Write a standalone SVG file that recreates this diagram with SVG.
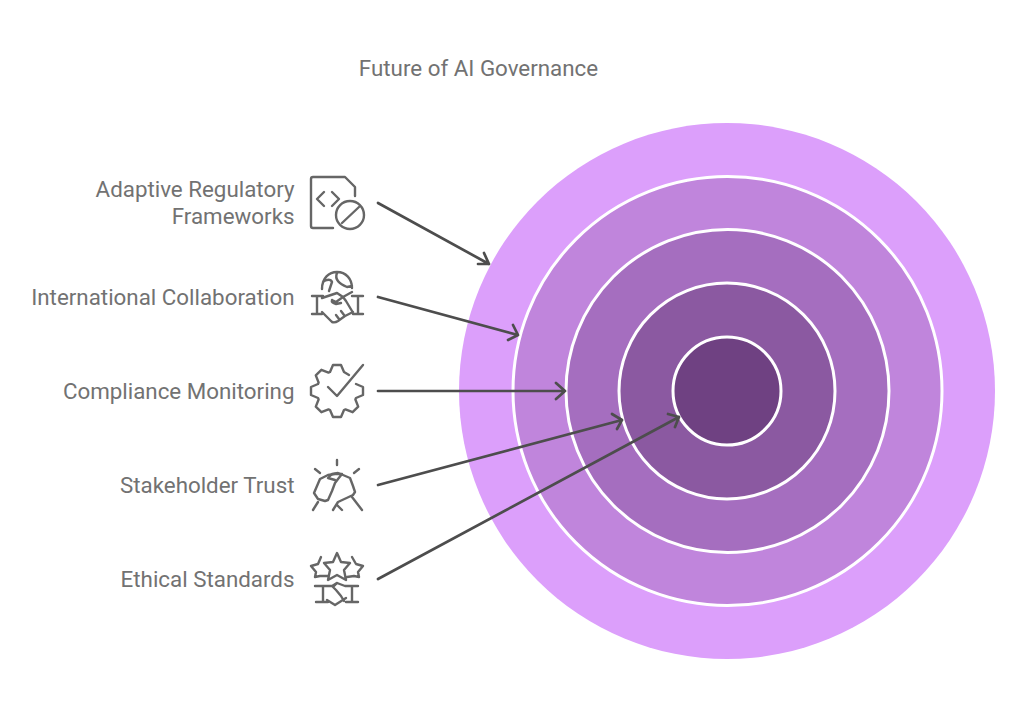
<svg xmlns="http://www.w3.org/2000/svg" width="1024" height="715" viewBox="0 0 1024 715">
<style>
text{font-family:Roboto,"Liberation Sans",sans-serif;font-size:22.35px;fill:#727272;text-anchor:end}
.ring{stroke:#fff;stroke-width:3}
.ico{fill:none;stroke:#666;stroke-width:2.4;stroke-linecap:round;stroke-linejoin:round}
.con{fill:none;stroke:#4d4d4d;stroke-width:2.7;stroke-linecap:round;stroke-linejoin:round}
</style>
<rect width="1024" height="715" fill="#fff"/>
<text id="title" x="478.500" y="76" style="text-anchor:middle">Future of AI Governance</text>
<g id="rings">
<circle id="ring1" cx="727" cy="391" r="268" fill="#dc9ffb"/>
<circle id="ring2" class="ring" cx="727.500" cy="391" r="214.500" fill="#c085dc"/>
<circle id="ring3" class="ring" cx="727.500" cy="391" r="161.500" fill="#a56ebf"/>
<circle id="ring4" class="ring" cx="727" cy="391" r="108" fill="#8b59a1"/>
<circle id="ring5" class="ring" cx="727" cy="391" r="54" fill="#6f4182"/>
</g>
<g id="connectors" class="con">
<path d="M378 203L489 264M478 264L489 264L484 253"/>
<path d="M378 297L518 335M508 340L518 335L513 325"/>
<path d="M378 391L565 391M556 383L565 391L556 399"/>
<path d="M378 485L622 420M612 414L622 420L617 429"/>
<path d="M378 579L679 417M668 414L679 417L675 427"/>
</g>
<g id="node1"><text x="294.500" y="197">Adaptive Regulatory</text><text x="294.500" y="224">Frameworks</text>
<g class="ico"><path d="M333 228H313Q311 228 311 226V179Q311 177 313 177H345L355 187V196"/><path d="M324 192L317 199L324 206M332 192L339 199L332 206"/><circle cx="350" cy="215" r="14"/><path d="M342 223L359 207"/></g></g>
<g id="node2"><text x="294.500" y="305">International Collaboration</text>
<g class="ico"><path d="M322 289C322 278 329 272 337 272C346 272 352 279 352 288M337 273C334 280 340 284 347 287L352 286M323 282C326 279 331 279 332 282L329 291"/><path d="M312 296H323M317 296V314M312 314H322M363 296H352M358 296V314M363 314H353"/><path d="M322 298L337 293L343 297L352 292M322 312L332 322Q335 323 338 321L345 316L353 312"/><path d="M332 300L336 302L343 297L346 301L352 311M336 315L339 319M341 311L344 315M332 300Q331 303 336 304L341 303"/></g></g>
<g id="node3"><text x="294.500" y="398.500">Compliance Monitoring</text>
<g class="ico"><path d="M349 375L344 372L341 365H333L330 372L328.500 372.600L321.400 369.800L315.800 375.400L318.600 382.500L318 384L311 387V395L318 398L318.600 399.500L315.800 406.600L321.400 412.200L328.500 409.400L330 410L333 417H341L344 410L345.500 409.400L352.600 412.200L358.200 406.600L355.400 399.500L356 398L363 395V387L356 384"/><path d="M328 387L337 396L363 365"/></g></g>
<g id="node4"><text x="294.500" y="492.500">Stakeholder Trust</text>
<g class="ico"><path d="M337 460V465M315 469L320 473M359 469L354 473"/><path d="M313 510L318 502M362 510L352 497"/><path d="M314 493L317 486L320 479L328 475L335 474L342 474L338 479L335 483L332 491L328 500L325 501L318 499Z"/><path d="M333 510L338 502L353 495L355 492L353 486L350 478L343 475L338 473L332 474L328 478L335 480M337 505L342 510"/></g></g>
<g id="node5"><text x="294.500" y="586.500">Ethical Standards</text>
<g class="ico"><path d="M337 553L341 562L350 563L344 570L346 580L337 575L328 580L330 570L324 563L333 562Z"/><path d="M321 557L318 564L311 566L316 572L315 577L320 576L328 576M352 557L356 564L363 566L358 572L359 577L354 576L347 577"/><path d="M315 586H332L337 583L345 586H358M316 602H328M323 586V602M358 602H346M352 586V602"/><path d="M327 600L335 605L346 598M337 583L333 587L336 590L341 596L344 601"/></g></g>
</svg>
